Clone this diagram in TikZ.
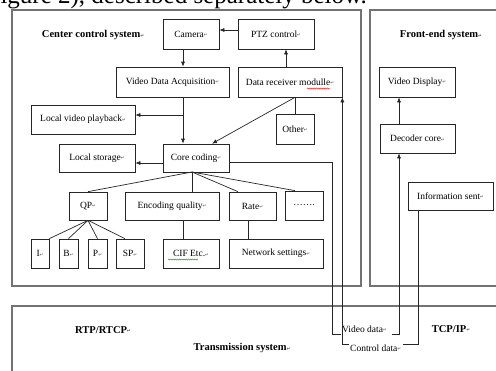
\documentclass[tikz,border=0pt]{standalone}
\usepackage{fontspec}
\setmainfont{Liberation Serif}
\newfontfamily\symfont{DejaVu Sans}
\usetikzlibrary{arrows.meta,decorations.pathmorphing}
\newcommand\retm{\raisebox{0.5pt}{\textcolor{black!70}{\symfont\fontsize{4.5}{5}\selectfont ↵}}}
\begin{document}
\begin{tikzpicture}[x=1pt,y=-1pt,
  bx/.style={draw=black!85, line width=0.7pt, inner sep=0pt, font=\fontsize{9.5}{11}\selectfont},
  frame/.style={draw=black!55, line width=1.1pt},
  ln/.style={draw=black!85, line width=0.7pt},
  arr/.style={ln, -{Latex[length=5pt,width=4.2pt]}},
  hd/.style={font=\fontsize{10.5}{12}\selectfont\bfseries, inner sep=0pt},
  lb/.style={font=\fontsize{9.5}{11}\selectfont, inner sep=0pt},
  squig/.style={line width=0.4pt, decorate, decoration={snake, amplitude=0.6pt, segment length=2.2pt}},
]
\useasboundingbox (0,0) rectangle (496,370);

% cut-off text line at the top
\node[anchor=base west, inner sep=0pt, font=\fontsize{25}{25}\selectfont] (toptext) at (-8,3) {figure 2), described separately below.};

% frames
\draw[frame] (12,10) rectangle (361,286);
\draw[frame] (370,10) rectangle (510,286);
\draw[frame] (12,306) rectangle (510,390);

% headings
\node[hd] (hcc) at (93,35) {Center control system\retm};
\node[hd] (hfe) at (441,35) {Front-end system\retm};
\node[hd] (hrtp) at (103,330) {RTP/RTCP\retm};
\node[hd] (hts) at (242,348) {Transmission system\retm};
\node[hd] (htcp) at (451,329) {TCP/IP\retm};

% boxes
\node[bx, minimum width=56pt, minimum height=30pt] (cam) at (191,34) {Camera\retm};
\node[bx, minimum width=76pt, minimum height=30pt] (ptz) at (276,34) {PTZ control\retm};
\node[bx, minimum width=113pt, minimum height=30pt] (vda) at (172.5,82) {Video Data Acquisition\retm};
\node[bx, minimum width=104pt, minimum height=30pt] (drm) at (290,82) {Data receiver modulle\retm};
\node[bx, minimum width=104pt, minimum height=29pt] (lvp) at (83,119.5) {Local video playback\retm};
\node[bx, minimum width=38pt, minimum height=30pt] (oth) at (295,129) {Other\retm};
\node[bx, minimum width=66pt, minimum height=28pt] (core) at (196,158) {Core coding\retm};
\node[bx, minimum width=76pt, minimum height=28pt] (ls) at (97,158) {Local storage\retm};
\node[bx, minimum width=38pt, minimum height=28pt] (qp) at (88,206) {QP\retm};
\node[bx, minimum width=94pt, minimum height=28pt] (eq) at (172,206) {Encoding quality\retm};
\node[bx, minimum width=47pt, minimum height=28pt] (rate) at (252.5,206) {Rate\retm};
\node[bx, minimum width=38pt, minimum height=29pt] (dots) at (304,205.5) {…….};
\node[bx, minimum width=18pt, minimum height=29pt] (bi) at (40,253.5) {I\retm};
\node[bx, minimum width=19pt, minimum height=29pt] (bb) at (68.5,253.5) {B\retm};
\node[bx, minimum width=19pt, minimum height=29pt] (bp) at (97.5,253.5) {P\retm};
\node[bx, minimum width=28pt, minimum height=29pt] (bsp) at (130,253.5) {SP\retm};
\node[bx, minimum width=56pt, minimum height=29pt] (cif) at (191,253.5) {CIF Etc.\retm};
\node[bx, minimum width=94pt, minimum height=29pt] (net) at (276,253.5) {Network settings\retm};
\node[bx, minimum width=76pt, minimum height=30pt] (vd) at (417,82) {Video Display\retm};
\node[bx, minimum width=75pt, minimum height=29pt] (dec) at (417.5,138.5) {Decoder core\retm};
\node[bx, minimum width=85pt, minimum height=28pt] (info) at (450.5,196) {Information sent\retm};

% spelling marks
\draw[squig, red] (307,88.5) -- (330,88.5);
\draw[squig, green!60!black] (168,259.5) -- (198,259.5);

% helper coordinates
\coordinate (xa) at (183,0);
\coordinate (xb) at (286,0);
\coordinate (xc) at (295,0);
\coordinate (xd) at (248,0);
\coordinate (xv) at (399,0);
\coordinate (xi) at (418,0);
\coordinate (cs) at (192,172);

% top connectors
\draw[arr] ([yshift=4pt]ptz.west) -- ([yshift=4pt]cam.east);
\draw[arr] (cam.south -| xa) -- (vda.north -| xa);
\draw[arr] (vda.south -| xa) -- (core.north -| xa);
\coordinate (j1) at (183,115);
\draw[arr] (j1) -- (j1 -| lvp.east);
\draw[arr] (drm.north -| xb) -- (ptz.south -| xb);
\draw[arr] (drm.south -| xc) -- ([xshift=16pt]core.north);
\draw[ln] (drm.south -| xc) -- (oth.north);
\coordinate (cw) at (163,163);
\draw[arr] (cw) -- (cw -| ls.east);

% core coding tree
\draw[ln] (cs) -- (qp.north);
\draw[ln] (cs) -- (cs |- eq.north);
\draw[ln] (cs) -- ([xshift=-14.5pt]rate.north);
\draw[ln] (cs) -- ([xshift=-9pt]dots.north);
\draw[ln] (qp.south) -- (bi.north east);
\draw[ln] (qp.south) -- (bb.north);
\draw[ln] (qp.south) -- (bp.north);
\draw[ln] (qp.south) -- ([xshift=-5pt]bsp.north);
\draw[ln] (eq.south -| xa) -- (cif.north -| xa);
\draw[ln] (rate.south -| xd) -- (net.north -| xd);

% front-end
\draw[arr] (dec.north -| xv) -- (vd.south -| xv);

% data labels
\node[lb, anchor=west] (vdt) at (342,329) {Video data\retm};
\node[lb, anchor=west] (cdt) at (350,348) {Control data\retm};

% video data path
\coordinate (ce) at (229,162);
\coordinate (v1) at (332,334);
\coordinate (v2) at (341,334);
\coordinate (v3) at (392,334);
\draw[ln] (ce) -| (v1) -- (v2);
\draw[arr] (v3) -| (dec.south -| xv);

% control data path
\coordinate (c2) at (403,344);
\coordinate (c3) at (349,344);
\draw[ln] (info.south -| xi) |- (c2);
\draw[arr] (c3) -| (drm.south east);
\end{tikzpicture}
\end{document}
